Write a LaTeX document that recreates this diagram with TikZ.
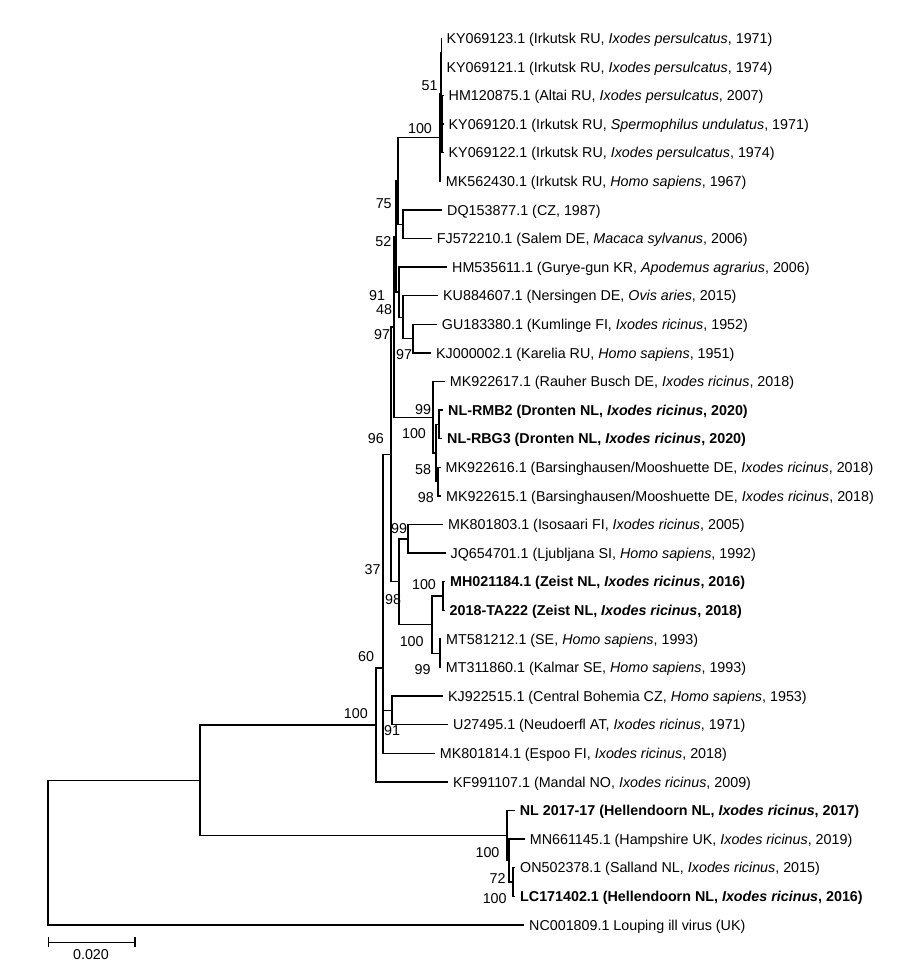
\documentclass[tikz,border=0pt]{standalone}
\usepackage{fontspec}
\setmainfont{Liberation Sans}
\newcommand{\leafnode}[4]{%
  \coordinate (l#1) at (#2,#3);
  \node[leaftext] (t#1) at (#2+5,#3+5.1) {#4};}
\begin{document}
\begin{tikzpicture}[x=1pt,y=-1pt,
  br/.style={line width=1.4pt, black},
  leaftext/.style={anchor=base west, inner sep=0pt, font=\fontsize{14.3}{17}\selectfont},
  bs/.style={inner sep=0pt, font=\fontsize{14.3}{17}\selectfont}]
\fill[white] (0,0) rectangle (900,962);
\useasboundingbox (0,0) rectangle (900,962);
% internal nodes
\coordinate (R) at (48,852.55);
\coordinate (R2) at (200,780.2);
\coordinate (NX) at (376,724.85);
\coordinate (N60) at (383,667.8);
\coordinate (N37) at (383,582.35);
\coordinate (N96) at (391,454.3);
\coordinate (N91) at (394,326.85);
\coordinate (N52) at (396,236.4);
\coordinate (N75) at (398,180.75);
\coordinate (Irk) at (440,137.3);
\coordinate (S51) at (440.8,93.3);
\coordinate (SA) at (441.3,52.6);
\coordinate (SB) at (441.8,124.1);
\coordinate (DQFJ) at (403,224.2);
\coordinate (A1) at (399,292.1);
\coordinate (KUGK) at (403,317.2);
\coordinate (GK) at (413,338.6);
\coordinate (N99) at (433,417.3);
\coordinate (S100) at (436,453);
\coordinate (RR) at (439,424.4);
\coordinate (MM) at (438,481.6);
\coordinate (Na) at (399,581.7);
\coordinate (MJ) at (408,538.8);
\coordinate (N98) at (432,624.6);
\coordinate (ZE) at (443,596);
\coordinate (SE) at (440,653.2);
\coordinate (Z) at (392,710.4);
\coordinate (NH) at (507,835.55);
\coordinate (B) at (509,860.6);
\coordinate (C) at (513,882);
% leaves
\leafnode{1}{441.3}{38.3}{KY069123.1 (Irkutsk RU, \textit{Ixodes persulcatus}, 1971)}
\leafnode{2}{441.3}{66.9}{KY069121.1 (Irkutsk RU, \textit{Ixodes persulcatus}, 1974)}
\leafnode{3}{443.5}{95.5}{HM120875.1 (Altai RU, \textit{Ixodes persulcatus}, 2007)}
\leafnode{4}{443.5}{124.1}{KY069120.1 (Irkutsk RU, \textit{Spermophilus undulatus}, 1971)}
\leafnode{5}{443.5}{152.7}{KY069122.1 (Irkutsk RU, \textit{Ixodes persulcatus}, 1974)}
\leafnode{6}{440.7}{181.3}{MK562430.1 (Irkutsk RU, \textit{Homo sapiens}, 1967)}
\leafnode{7}{442}{209.9}{DQ153877.1 (CZ, 1987)}
\leafnode{8}{431.7}{238.5}{FJ572210.1 (Salem DE, \textit{Macaca sylvanus}, 2006)}
\leafnode{9}{447}{267.1}{HM535611.1 (Gurye-gun KR, \textit{Apodemus agrarius}, 2006)}
\leafnode{10}{438}{295.7}{KU884607.1 (Nersingen DE, \textit{Ovis aries}, 2015)}
\leafnode{11}{436.7}{324.3}{GU183380.1 (Kumlinge FI, \textit{Ixodes ricinus}, 1952)}
\leafnode{12}{431}{352.9}{KJ000002.1 (Karelia RU, \textit{Homo sapiens}, 1951)}
\leafnode{13}{444.7}{381.5}{MK922617.1 (Rauher Busch DE, \textit{Ixodes ricinus}, 2018)}
\leafnode{14}{443}{410.1}{\textbf{NL-RMB2 (Dronten NL, \textit{Ixodes ricinus}, 2020)}}
\leafnode{15}{442}{438.7}{\textbf{NL-RBG3 (Dronten NL, \textit{Ixodes ricinus}, 2020)}}
\leafnode{16}{440.5}{467.3}{MK922616.1 (Barsinghausen/Mooshuette DE, \textit{Ixodes ricinus}, 2018)}
\leafnode{17}{441}{495.9}{MK922615.1 (Barsinghausen/Mooshuette DE, \textit{Ixodes ricinus}, 2018)}
\leafnode{18}{443}{524.5}{MK801803.1 (Isosaari FI, \textit{Ixodes ricinus}, 2005)}
\leafnode{19}{445.5}{553.1}{JQ654701.1 (Ljubljana SI, \textit{Homo sapiens}, 1992)}
\leafnode{20}{445}{581.7}{\textbf{MH021184.1 (Zeist NL, \textit{Ixodes ricinus}, 2016)}}
\leafnode{21}{444.5}{610.3}{\textbf{2018-TA222 (Zeist NL, \textit{Ixodes ricinus}, 2018)}}
\leafnode{22}{441}{638.9}{MT581212.1 (SE, \textit{Homo sapiens}, 1993)}
\leafnode{23}{440.7}{667.5}{MT311860.1 (Kalmar SE, \textit{Homo sapiens}, 1993)}
\leafnode{24}{443}{696.1}{KJ922515.1 (Central Bohemia CZ, \textit{Homo sapiens}, 1953)}
\leafnode{25}{448}{724.7}{U27495.1 (Neudoerfl AT, \textit{Ixodes ricinus}, 1971)}
\leafnode{26}{434.7}{753.3}{MK801814.1 (Espoo FI, \textit{Ixodes ricinus}, 2018)}
\leafnode{27}{448}{781.9}{KF991107.1 (Mandal NO, \textit{Ixodes ricinus}, 2009)}
\leafnode{28}{514.7}{810.5}{\textbf{NL 2017-17 (Hellendoorn NL, \textit{Ixodes ricinus}, 2017)}}
\leafnode{29}{524.7}{839.1}{MN661145.1 (Hampshire UK, \textit{Ixodes ricinus}, 2019)}
\leafnode{30}{515}{867.7}{ON502378.1 (Salland NL, \textit{Ixodes ricinus}, 2015)}
\leafnode{31}{515}{896.3}{\textbf{LC171402.1 (Hellendoorn NL, \textit{Ixodes ricinus}, 2016)}}
\leafnode{32}{524}{924.9}{NC001809.1 Louping ill virus (UK)}
% branches
\foreach \p/\c in {R/R2, R/l32, R2/NX, R2/NH, NX/N60, NX/l27, N60/N37, N60/l26,
  N37/N96, N37/Z, N96/N91, N96/Na, N91/N52, N91/N99, N52/N75, N52/A1,
  N75/Irk, N75/DQFJ, Irk/S51, Irk/l6, S51/SA, S51/SB, SA/l1, SA/l2,
  SB/l3, SB/l4, SB/l5, DQFJ/l7, DQFJ/l8, A1/l9, A1/KUGK, KUGK/l10, KUGK/GK,
  GK/l11, GK/l12, N99/l13, N99/S100, S100/RR, S100/MM, RR/l14, RR/l15,
  MM/l16, MM/l17, Na/MJ, Na/N98, MJ/l18, MJ/l19, N98/ZE, N98/SE,
  ZE/l20, ZE/l21, SE/l22, SE/l23, Z/l24, Z/l25, NH/l28, NH/B,
  B/l29, B/C, C/l30, C/l31}
  {\draw[br] (\p) |- (\c);}
% bootstrap values
\node[bs] (b1) at (429.5,85.7) {51};
\node[bs] (b2) at (420,128.3) {100};
\node[bs] (b3) at (383.7,204) {75};
\node[bs] (b4) at (383.3,241.7) {52};
\node[bs] (b5) at (377,296) {91};
\node[bs] (b6) at (384,310) {48};
\node[bs] (b7) at (382,335) {97};
\node[bs] (b8) at (404,355) {97};
\node[bs] (b9) at (423,410) {99};
\node[bs] (b10) at (414,433.3) {100};
\node[bs] (b11) at (375.8,438.3) {96};
\node[bs] (b12) at (423,470) {58};
\node[bs] (b13) at (425.8,497.7) {98};
\node[bs] (b14) at (399,528.3) {99};
\node[bs] (b15) at (372.5,569.3) {37};
\node[bs] (b16) at (424,585) {100};
\node[bs] (b17) at (393,599.3) {98};
\node[bs] (b18) at (411.7,641.7) {100};
\node[bs] (b19) at (422.5,670) {99};
\node[bs] (b20) at (366,656.7) {60};
\node[bs] (b21) at (355.8,713.3) {100};
\node[bs] (b22) at (392,730.5) {91};
\node[bs] (b23) at (487.5,852.7) {100};
\node[bs] (b24) at (497.5,878.3) {72};
\node[bs] (b25) at (494.7,898.3) {100};
% scale bar
\coordinate (sbL) at (48.3,942.3);
\coordinate (sbR) at (135,942.3);
\coordinate (sbLt) at (48.3,937.3);
\coordinate (sbLb) at (48.3,947.3);
\coordinate (sbRt) at (135,937.3);
\coordinate (sbRb) at (135,947.3);
\draw[br] (sbL) -- (sbR);
\draw[br] (sbLt) -- (sbLb);
\draw[br] (sbRt) -- (sbRb);
\node[bs] (sbt) at (91,954.5) {0.020};
\end{tikzpicture}
\end{document}
